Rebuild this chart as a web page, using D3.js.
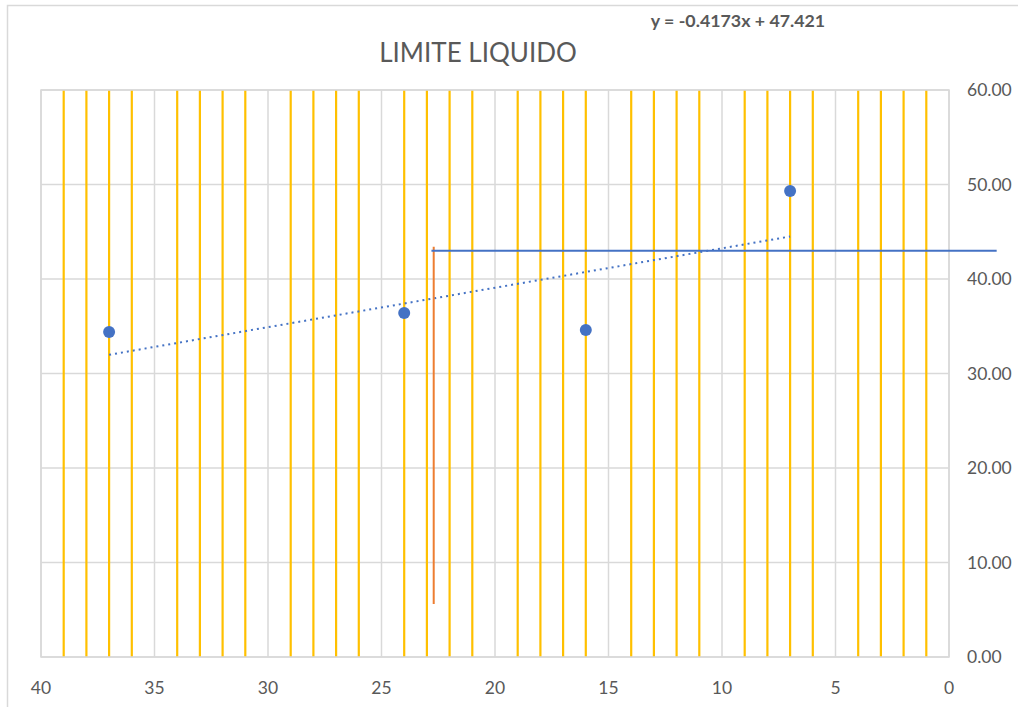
<!DOCTYPE html>
<html>
<head>
<meta charset="utf-8">
<script src="https://cdn.jsdelivr.net/npm/d3@7"></script>
<style>
  html, body { margin: 0; padding: 0; background: #fff; }
  #chart { width: 1018px; height: 707px; }
  text { font-family: Lato, "Open Sans", sans-serif; fill: #595959; }
</style>
</head>
<body>
<div id="chart"></div>
<script>
"use strict";

// chart data
const golpes = [37, 24, 16, 7];
const humedad = [34.4, 36.4, 34.6, 49.3];
const slope = -0.4173;
const intercept = 47.421;
const trendRange = [37, 7];
const yellowLines = [1, 2, 3, 4, 6, 7, 8, 9, 11, 12, 13, 14, 16, 17, 18, 19,
  21, 22, 23, 24, 26, 27, 28, 29, 31, 32, 33, 34, 36, 37, 38, 39];
const redLine = { x: 22.7, y0: 5.6, y1: 43.4 };
const blueLine = { x0: 22.8, x1: -2.1, y: 43.0 };
const xTicks = [40, 35, 30, 25, 20, 15, 10, 5, 0];
const yTicks = [0, 10, 20, 30, 40, 50, 60];
const title = "LIMITE LIQUIDO";
const equation = "y = -0.4173x + 47.421";

function draw() {
  const w = 1018, h = 707;
  const left = 41, right = 949, top = 90, bottom = 657;

  const svg = d3.select("#chart").append("svg")
    .attr("width", w).attr("height", h);

  // outer chart frame
  svg.append("rect")
    .attr("x", 7.5).attr("y", 5.5)
    .attr("width", w + 20).attr("height", h + 20)
    .attr("fill", "none").attr("stroke", "#d9d9d9").attr("stroke-width", 1.5);

  const x = d3.scaleLinear().domain([40, 0]).range([left, right]);
  const y = d3.scaleLinear().domain([0, 60]).range([bottom, top]);

  // gridlines
  svg.append("g").selectAll("line").data(xTicks).enter().append("line")
    .attr("x1", (d) => x(d)).attr("x2", (d) => x(d))
    .attr("y1", top).attr("y2", bottom)
    .attr("stroke", "#d9d9d9").attr("stroke-width", 1.5);
  svg.append("g").selectAll("line").data(yTicks).enter().append("line")
    .attr("x1", left).attr("x2", right)
    .attr("y1", (d) => y(d)).attr("y2", (d) => y(d))
    .attr("stroke", "#d9d9d9").attr("stroke-width", 1.5);

  // yellow vertical series
  svg.append("g").selectAll("line").data(yellowLines).enter().append("line")
    .attr("x1", (d) => x(d)).attr("x2", (d) => x(d))
    .attr("y1", y(60)).attr("y2", y(0))
    .attr("stroke", "#FFC000").attr("stroke-width", 2.2);

  // plot border
  svg.append("rect")
    .attr("x", left).attr("y", top)
    .attr("width", right - left).attr("height", bottom - top)
    .attr("fill", "none").attr("stroke", "#d9d9d9").attr("stroke-width", 1.5);

  // trendline
  svg.append("line")
    .attr("x1", x(trendRange[0])).attr("y1", y(slope * trendRange[0] + intercept))
    .attr("x2", x(trendRange[1])).attr("y2", y(slope * trendRange[1] + intercept))
    .attr("stroke", "#4472C4").attr("stroke-width", 2)
    .attr("stroke-dasharray", "2,4");

  // red vertical
  svg.append("line")
    .attr("x1", x(redLine.x)).attr("x2", x(redLine.x))
    .attr("y1", y(redLine.y0)).attr("y2", y(redLine.y1))
    .attr("stroke", "#ED7D31").attr("stroke-width", 2);

  // blue horizontal
  svg.append("line")
    .attr("x1", x(blueLine.x0)).attr("x2", x(blueLine.x1))
    .attr("y1", y(blueLine.y)).attr("y2", y(blueLine.y))
    .attr("stroke", "#4472C4").attr("stroke-width", 2);

  // points
  svg.append("g").selectAll("circle").data(golpes).enter().append("circle")
    .attr("cx", (d) => x(d))
    .attr("cy", (d, i) => y(humedad[i]))
    .attr("r", 6)
    .attr("fill", "#4472C4");

  // x-axis labels
  svg.append("g").selectAll("text").data(xTicks).enter().append("text")
    .attr("x", (d) => x(d)).attr("y", 694)
    .attr("text-anchor", "middle")
    .style("font-size", "17.5px")
    .text((d) => d);

  // y-axis labels on the right
  svg.append("g").selectAll("text").data(yTicks).enter().append("text")
    .attr("x", 967).attr("y", (d) => y(d) + 6)
    .style("font-size", "17.5px")
    .text((d) => d.toFixed(2));

  svg.append("text")
    .attr("x", 478).attr("y", 62)
    .attr("text-anchor", "middle")
    .style("font-size", "26px")
    .text(title);

  svg.append("text")
    .attr("x", 738).attr("y", 27)
    .attr("text-anchor", "middle")
    .style("font-size", "17.8px")
    .style("font-weight", "bold")
    .text(equation);
}

draw();
</script>
</body>
</html>
